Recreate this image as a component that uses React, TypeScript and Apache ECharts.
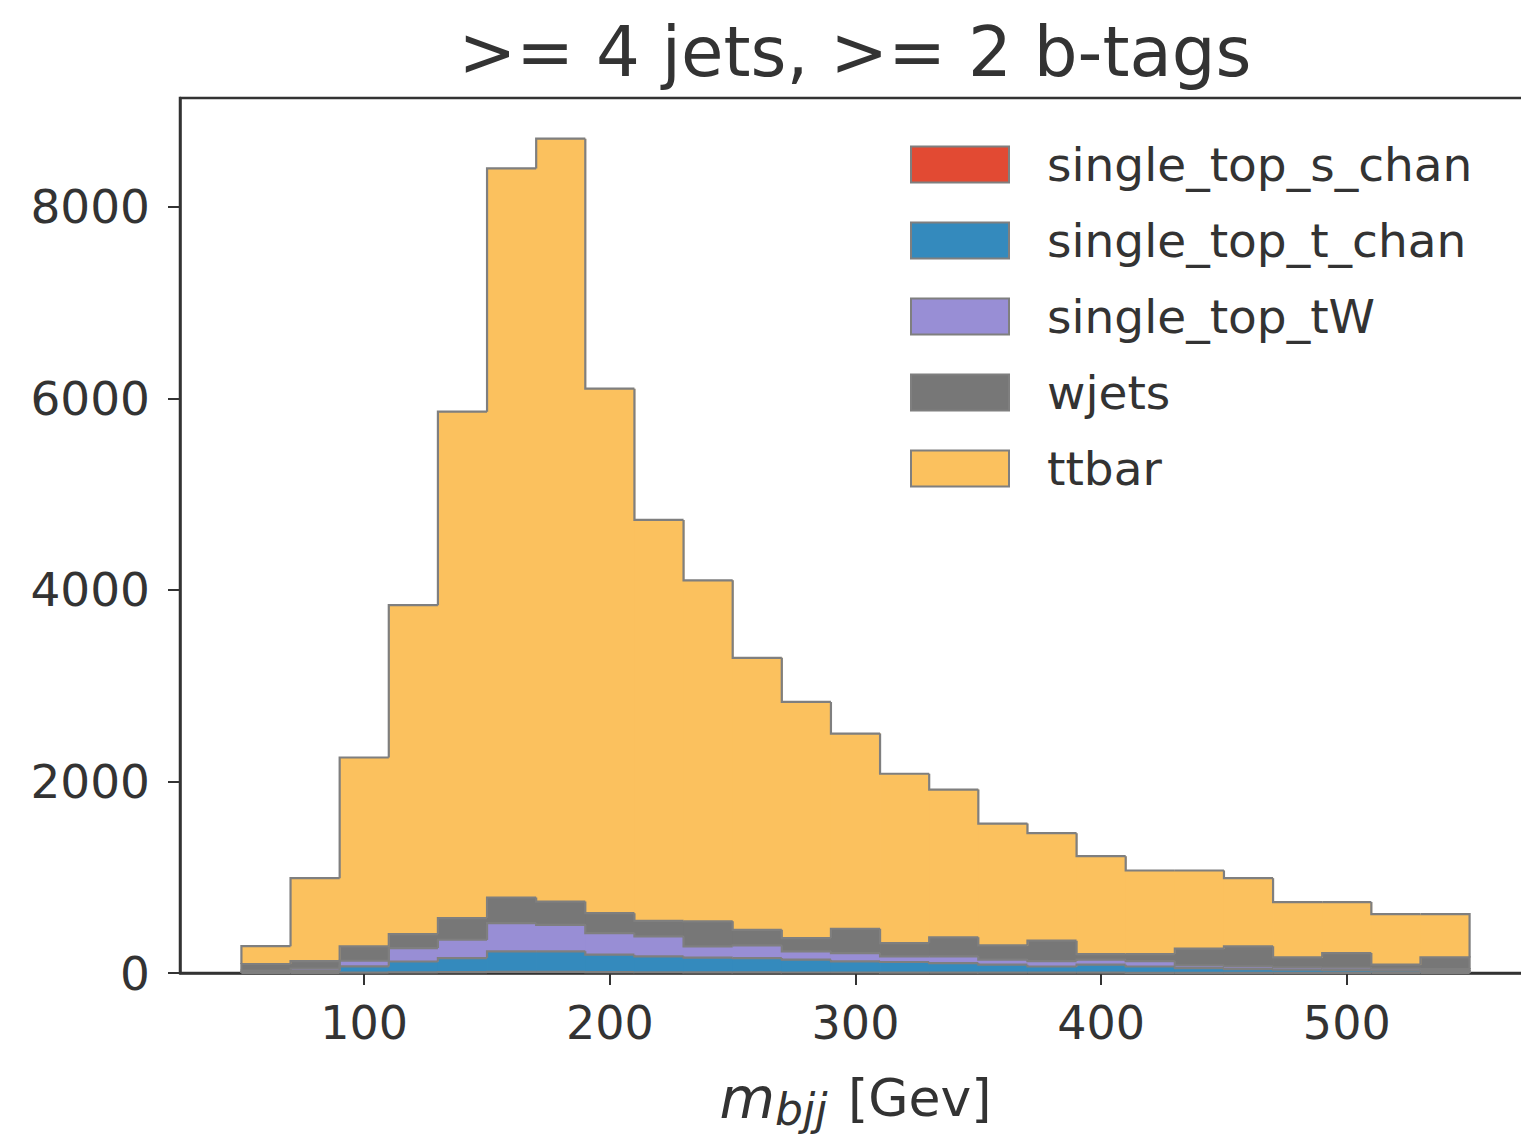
import React, { useEffect, useRef } from "react";
import * as echarts from "echarts";

// ---- data ----
const binEdges = [50, 70, 90, 110, 130, 150, 170, 190, 210, 230, 250, 270, 290, 310, 330, 350, 370, 390, 410, 430, 450, 470, 490, 510, 530, 550];

const seriesNames = ["single_top_s_chan", "single_top_t_chan", "single_top_tW", "wjets", "ttbar"];
const seriesColors = ["#E24A33", "#348ABD", "#988ED5", "#777777", "#FBC15E"];

const singleTopSChan = [1, 2, 4, 6, 10, 12, 12, 10, 8, 7, 6, 5, 5, 4, 4, 3, 3, 3, 2, 2, 2, 2, 1, 1, 1];
const singleTopTChan = [9, 18, 66, 114, 146, 214, 214, 181, 166, 153, 150, 134, 117, 111, 100, 84, 65, 84, 66, 48, 38, 33, 29, 24, 19];
const singleTopTW = [15, 25, 58, 140, 191, 294, 277, 226, 208, 118, 132, 87, 86, 59, 70, 52, 57, 52, 57, 30, 30, 25, 25, 20, 20];
const wjets = [69, 80, 150, 146, 226, 268, 243, 208, 163, 262, 163, 139, 254, 138, 198, 149, 212, 59, 73, 175, 208, 103, 153, 42, 123];
const ttbar = [186, 865, 1972, 3434, 5287, 7612, 7964, 5475, 4185, 3560, 2839, 2465, 2038, 1768, 1543, 1272, 1123, 1022, 872, 815, 712, 577, 532, 528, 452];

const xTicks = [100, 200, 300, 400, 500];
const yTicks = [0, 2000, 4000, 6000, 8000];

const titleText = ">= 4 jets, >= 2 b-tags";

const FONT = "DejaVu Sans";
const EDGE = "#7f7f7f";
const AXIS = "#333333";

export default function App() {
  const ref = useRef<HTMLDivElement>(null);

  useEffect(() => {
    const chart = echarts.init(ref.current as HTMLDivElement, null, { renderer: "svg" });
    const layers = [singleTopSChan, singleTopTChan, singleTopTW, wjets, ttbar];
    const bottoms = layers[0].map(() => 0);

    const series: any[] = layers.map((vals, li) => {
      const data = vals.map((v, i) => {
        const b = bottoms[i];
        const t = b + v;
        const prevTop = i === 0 ? b : bottoms[i - 1] + vals[i - 1];
        return [binEdges[i], binEdges[i + 1], b, t, prevTop, i === vals.length - 1 ? 1 : 0];
      });
      vals.forEach((v, i) => (bottoms[i] += v));
      const color = seriesColors[li];
      return {
        type: "custom",
        name: seriesNames[li],
        itemStyle: { color, borderColor: EDGE, borderWidth: 2 },
        encode: { x: [0, 1], y: [2, 3] },
        data,
        renderItem: (params: any, api: any) => {
          const x0 = api.value(0);
          const x1 = api.value(1);
          const b = api.value(2);
          const t = api.value(3);
          const pt = api.value(4);
          const last = api.value(5) === 1;
          const pB0 = api.coord([x0, b]);
          const pT1 = api.coord([x1, t]);
          const pPrev = api.coord([x0, pt]);
          const pB1 = api.coord([x1, b]);
          const pts: number[][] = [pPrev, [pB0[0], pT1[1]], pT1];
          if (last) pts.push(pB1);
          return {
            type: "group",
            children: [
              {
                type: "rect",
                z2: 1,
                shape: {
                  x: pB0[0],
                  y: pT1[1],
                  width: pT1[0] - pB0[0] + (last ? 0 : 0.8),
                  height: pB0[1] - pT1[1],
                },
                style: { fill: color },
              },
              {
                type: "polyline",
                z2: 20,
                shape: { points: pts },
                style: { stroke: EDGE, lineWidth: 2.2, fill: null },
              },
            ],
          };
        },
      };
    });

    chart.setOption({
      animation: false,
      backgroundColor: "#ffffff",
      title: {
        text: titleText,
        left: 855,
        top: 17,
        textAlign: "center",
        padding: 0,
        textStyle: { fontFamily: FONT, fontSize: 69, fontWeight: "normal", color: "#333333" },
      },
      grid: {
        left: 180,
        top: 98,
        width: 1351,
        height: 877,
        show: true,
        borderColor: AXIS,
        borderWidth: 2.5,
        backgroundColor: "transparent",
      },
      legend: {
        orient: "vertical",
        left: 910,
        top: 141,
        padding: 0,
        itemWidth: 98,
        itemHeight: 36,
        itemGap: 29,
        icon: "rect",
        data: seriesNames,
        itemStyle: { borderColor: EDGE, borderWidth: 2 },
        textStyle: { fontFamily: FONT, fontSize: 47, color: "#333333", lineHeight: 47, padding: [0, 0, 0, 33] },
      },
      xAxis: {
        type: "value",
        min: 25,
        max: 575,
        splitLine: { show: false },
        axisLine: { show: true, lineStyle: { color: AXIS, width: 2.5 } },
        axisTick: { show: true, length: 12, customValues: xTicks, lineStyle: { color: AXIS, width: 2 } },
        axisLabel: {
          customValues: xTicks,
          margin: 27,
          fontFamily: FONT,
          fontSize: 46,
          color: "#333333",
          formatter: (v: number) => String(v),
        },
        name: "{m|m}{s|bjj} [Gev]",
        nameLocation: "middle",
        nameGap: 92,
        nameTextStyle: {
          fontFamily: FONT,
          fontSize: 52,
          color: "#333333",
          rich: {
            m: { fontFamily: FONT, fontStyle: "italic", fontSize: 57, color: "#333333" },
            s: { fontFamily: FONT, fontStyle: "italic", fontSize: 44, color: "#333333", padding: [22, 4, 0, 0] },
          },
        },
      },
      yAxis: {
        type: "value",
        min: 0,
        max: 9135,
        splitLine: { show: false },
        axisLine: { show: true, lineStyle: { color: AXIS, width: 2.5 } },
        axisTick: { show: true, length: 12, customValues: yTicks, lineStyle: { color: AXIS, width: 2 } },
        axisLabel: {
          customValues: yTicks,
          margin: 30,
          fontFamily: FONT,
          fontSize: 47,
          color: "#333333",
          formatter: (v: number) => String(v),
        },
      },
      series,
    });

    return () => chart.dispose();
  }, []);

  return (
    <div style={{ position: "fixed", left: 0, top: 0, width: 1521, height: 1136, overflow: "hidden" }}>
      <div ref={ref} style={{ width: 1560, height: 1136 }} />
    </div>
  );
}
